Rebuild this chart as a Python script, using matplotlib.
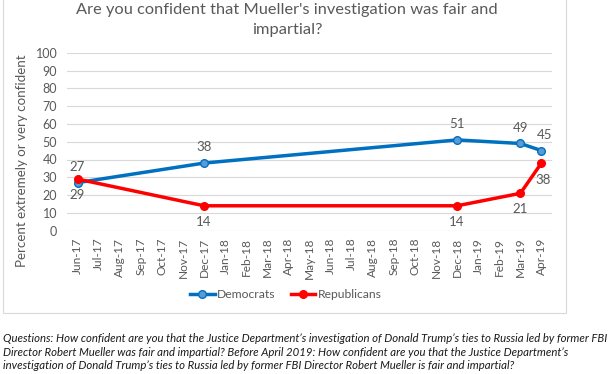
import matplotlib
matplotlib.use("Agg")
import matplotlib.pyplot as plt
from matplotlib.patches import Rectangle

months = ["Jun-17", "Jul-17", "Aug-17", "Sep-17", "Oct-17", "Nov-17", "Dec-17",
          "Jan-18", "Feb-18", "Mar-18", "Apr-18", "May-18", "Jun-18", "Jul-18",
          "Aug-18", "Sep-18", "Oct-18", "Nov-18", "Dec-18", "Jan-19", "Feb-19",
          "Mar-19", "Apr-19"]
survey_months = ["Jun-17", "Dec-17", "Dec-18", "Mar-19", "Apr-19"]
democrats = [27, 38, 51, 49, 45]
republicans = [29, 14, 14, 21, 38]
yticks = [0, 10, 20, 30, 40, 50, 60, 70, 80, 90, 100]

title = "Are you confident that Mueller's investigation was fair and\nimpartial?"
ylabel = "Percent extremely or very confident"
footnote = ("Questions: How confident are you that the Justice Department\u2019s investigation of Donald Trump\u2019s ties to Russia led by former FBI\n"
            "Director Robert Mueller was fair and impartial? Before April 2019: How confident are you that the Justice Department\u2019s\n"
            "investigation of Donald Trump\u2019s ties to Russia led by former FBI Director Robert Mueller is fair and impartial?")

plt.rcParams['font.family'] = ['Lato', 'DejaVu Sans']
gray = "#595959"
blue = "#0070C0"
red = "#FF0000"

fig = plt.figure(figsize=(6.12, 3.74), dpi=100)
W, H = 612, 374
ax = fig.add_axes([67 / W, 1 - 230.7 / H, (552 - 67) / W, (230.7 - 52.7) / H])

# chart border
fig.patches.append(Rectangle((3 / W, 1 - 313 / H), (566 - 3) / W, 313 / H + 0.01,
                             transform=fig.transFigure, fill=False,
                             edgecolor="#d9d9d9", linewidth=0.8))

xi = [months.index(m) for m in survey_months]
ax.plot(xi, democrats, color=blue, lw=2.5, marker='o', ms=5.5,
        mfc="#5B9BD5", mec=blue, mew=1, label="Democrats", zorder=3)
ax.plot(xi, republicans, color=red, lw=2.5, marker='o', ms=5.5,
        mfc=red, mec=red, label="Republicans", zorder=3)

ax.set_xlim(-0.5, len(months) - 0.5)
ax.set_ylim(0, 100)
ax.set_yticks(yticks)
ax.set_xticks(range(len(months)))
ax.set_xticklabels(months, rotation=90, fontsize=8.6, color=gray)
ax.tick_params(axis='y', labelsize=9, colors=gray, length=0, pad=7)
ax.tick_params(axis='x', length=0, pad=5, colors=gray)
ax.grid(axis='y', color="#d9d9d9", lw=0.8)
ax.set_axisbelow(True)
for s in ax.spines.values():
    s.set_visible(False)
ax.set_ylabel(ylabel, fontsize=9.6, color=gray)
ax.yaxis.set_label_coords((28 - 67) / (552 - 67), (230.7 - 161) / 178)

# data labels
for i, (x, d, r) in enumerate(zip(xi, democrats, republicans)):
    dx = 2 if i == len(xi) - 1 else 0
    ax.annotate(str(d), (x, d), xytext=(dx, 7), textcoords='offset points',
                ha='center', va='bottom', fontsize=9.5, color=gray)
    if i == len(xi) - 1:
        ax.annotate(str(r), (x, r), xytext=(1, -8), textcoords='offset points',
                    ha='center', va='top', fontsize=9.5, color=gray)
    else:
        ax.annotate(str(r), (x, r), xytext=(0, -7), textcoords='offset points',
                    ha='center', va='top', fontsize=9.5, color=gray)

fig.text(287 / W, 1 - 20 / H, title, ha='center', va='center', fontsize=11.8,
         color=gray, linespacing=1.5)

leg = fig.legend(loc='center', bbox_to_anchor=(286 / W, 1 - 295 / H), ncol=2,
                 frameon=False, fontsize=8.7, handlelength=2.0, columnspacing=1.3,
                 handletextpad=0.2)
for t in leg.get_texts():
    t.set_color(gray)

fig.text(3 / W, 1 - 352 / H, footnote, ha='left', va='center', fontsize=8.2,
         style='italic', color="#1a1a1a", linespacing=1.3)

fig.savefig("out.png", dpi=100)
